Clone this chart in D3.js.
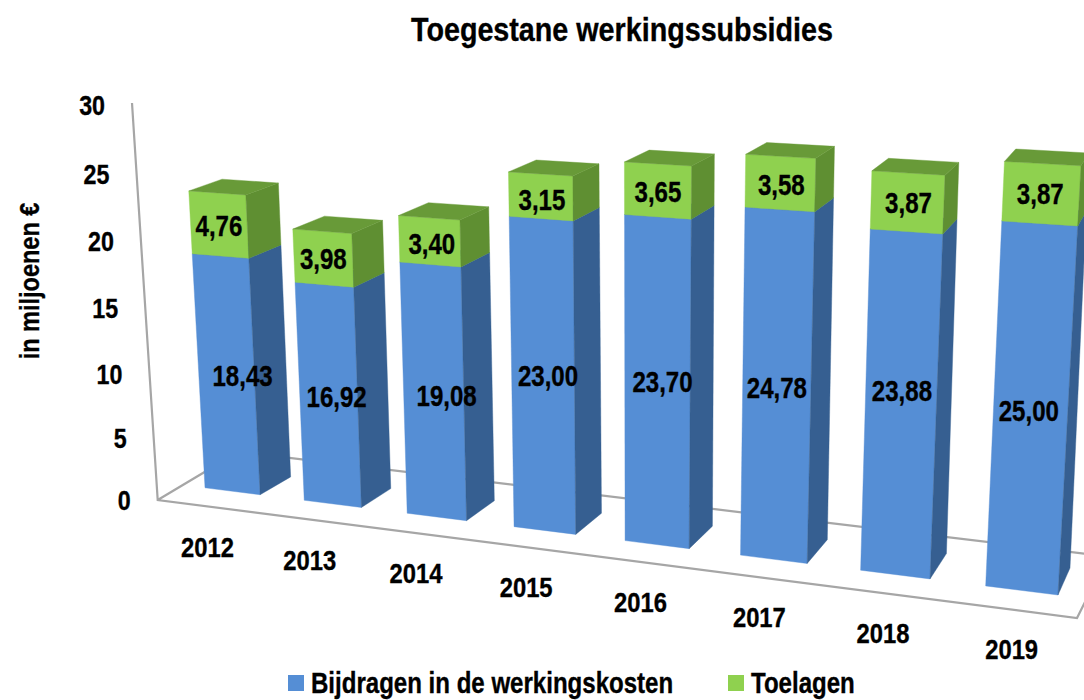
<!DOCTYPE html>
<html><head><meta charset="utf-8">
<script src="https://cdn.jsdelivr.net/npm/d3@7"></script>
<style>html,body{margin:0;padding:0;background:#fff}svg{display:block}
text{font-family:"Liberation Sans",Arial,sans-serif;font-weight:700;fill:#000;stroke:#000;stroke-width:.35px;paint-order:stroke}</style>
</head><body><svg id="c" width="1084" height="700"></svg>
<script>
const years=["2012","2013","2014","2015","2016","2017","2018","2019"];
const bijdragen=[18.43,16.92,19.08,23.00,23.70,24.78,23.88,25.00];
const toelagen=[4.76,3.98,3.40,3.15,3.65,3.58,3.87,3.87];
const yTicks=[0,5,10,15,20,25,30];
const title="Toegestane werkingssubsidies";
const yTitle="in miljoenen €";
const seriesNames=["Bijdragen in de werkingskosten","Toelagen"];

// layout: projective planes (corners at u=0/1, v=0/30): [u0v0,u1v0,u1v1,u0v1]
const frontQuad=[[205,487.8],[1058,595],[1081.9,148],[183.8,99.5]];
const backQuad=[[236,470.5],[1070,568],[1089.7,136],[217.8,90]];
const wallQuad=[[157.7,500],[1077,618],[1100,170],[132,103]];
const blueNudge=[[16,3],[8,3],[13,5],[5,2],[5,1],[0,4],[1,-12],[-2,4]];
const greenNudge=[[0,2],[0,1],[2,3],[1,4],[0,2],[1,2],[1,1],[-1,1]];
const col={blue:{f:"#558ed5",s:"#365f91",t:"#4a7ebb"},green:{f:"#8fd14f",s:"#5f8f32",t:"#689a38"},axis:"#a6a6a6"};

function homography(q){
  const [[x0,y0],[x1,y1],[x2,y2],[x3,y3]]=q;
  const dx1=x1-x2,dx2=x3-x2,sx=x0-x1+x2-x3,dy1=y1-y2,dy2=y3-y2,sy=y0-y1+y2-y3;
  const det=dx1*dy2-dx2*dy1;
  const g=(sx*dy2-dx2*sy)/det,h=(dx1*sy-sx*dy1)/det;
  const a=x1-x0+g*x1,b=x3-x0+h*x3,c=x0,d=y1-y0+g*y1,e=y3-y0+h*y3,f=y0;
  return (u,v)=>{const w=g*u+h*v+1;return [(a*u+b*v+c)/w,(d*u+e*v+f)/w];};
}
const front=homography(frontQuad),back=homography(backQuad),wall=homography(wallQuad);
const x=d3.scaleBand().domain(years).range([0,1]).paddingInner(0.44).paddingOuter(0);
const y=d3.scaleLinear().domain([0,30]).range([0,1]);
const svg=d3.select("#c");
const line=d3.line();
function txt(s,px,py,size,sx,anchor){
  return svg.append("text").text(s).attr("font-size",size).attr("text-anchor",anchor||"middle")
    .attr("dominant-baseline","central")
    .attr("transform",`translate(${px},${py}) scale(${sx},1)`);
}
// floor & axis
const floorBackLeft=[238.6,451.7],floorBackRight=[1107.7,556.5];
const axisPaths=[[wall(0,y(30)),wall(0,y(0)),wall(1,y(0)),floorBackRight,floorBackLeft,wall(0,y(0))]];
svg.append("g").selectAll("path").data(axisPaths).join("path")
  .attr("d",d=>line(d)).attr("fill","none").attr("stroke",col.axis).attr("stroke-width",2.2);
// stacked bars
const stacks=d3.stack().keys(["blue","green"])(years.map((yr,i)=>({yr,blue:bijdragen[i],green:toelagen[i]})));
stacks.forEach(layer=>{
  const c=col[layer.key];
  const g=svg.append("g");
  layer.forEach(seg=>{
    const u0=x(seg.data.yr),u1=u0+x.bandwidth(),v0=y(seg[0]),v1=y(seg[1]);
    const faces=[
      {p:[front(u0,v0),front(u1,v0),front(u1,v1),front(u0,v1)],f:c.f},
      {p:[front(u1,v0),back(u1,v0),back(u1,v1),front(u1,v1)],f:c.s},
      {p:[front(u0,v1),front(u1,v1),back(u1,v1),back(u0,v1)],f:c.t}
    ];
    faces.forEach(fc=>g.append("path").attr("d",line(fc.p)+"Z").attr("fill",fc.f).attr("stroke",fc.f).attr("stroke-width",.4));
  });
});
// data labels
const fmt=v=>v.toFixed(2).replace(".",",");
stacks.forEach((layer,li)=>{
  const nudge=li?greenNudge:blueNudge;
  layer.forEach((seg,i)=>{
    const u0=x(seg.data.yr),u1=u0+x.bandwidth(),v0=y(seg[0]),v1=y(seg[1]);
    const pts=[front(u0,v0),front(u1,v0),front(u1,v1),front(u0,v1)];
    txt(fmt(seg[1]-seg[0]),d3.mean(pts,p=>p[0])+nudge[i][0],d3.mean(pts,p=>p[1])+nudge[i][1],29,.83);
  });
});
// y ticks
yTicks.forEach(t=>{const p=wall(0,y(t));txt(String(t),p[0]-27,p[1]+(t?2:0),28,.83,"end");});
// x labels
years.forEach((yr,i)=>{
  const u=x(yr)+x.bandwidth()/2,p=front(u,0),k=i/(years.length-1);
  txt(yr,p[0]-25+15*k,p[1]+56+3*k,28,.85);
});
txt(title,622,30,33,.87);
svg.append("text").text(yTitle).attr("font-size",28).attr("text-anchor","middle").attr("dominant-baseline","central")
  .attr("transform","translate(29,281) rotate(-90) scale(.84,1)");
// legend
const lg=[{k:"blue",x:288,tx:311},{k:"green",x:728,tx:751}];
lg.forEach((l,i)=>{
  svg.append("rect").attr("x",l.x).attr("y",675).attr("width",16).attr("height",16).attr("fill",col[l.k].f);
  txt(seriesNames[i],l.tx,683,29,.83,"start");
});
</script></body></html>
